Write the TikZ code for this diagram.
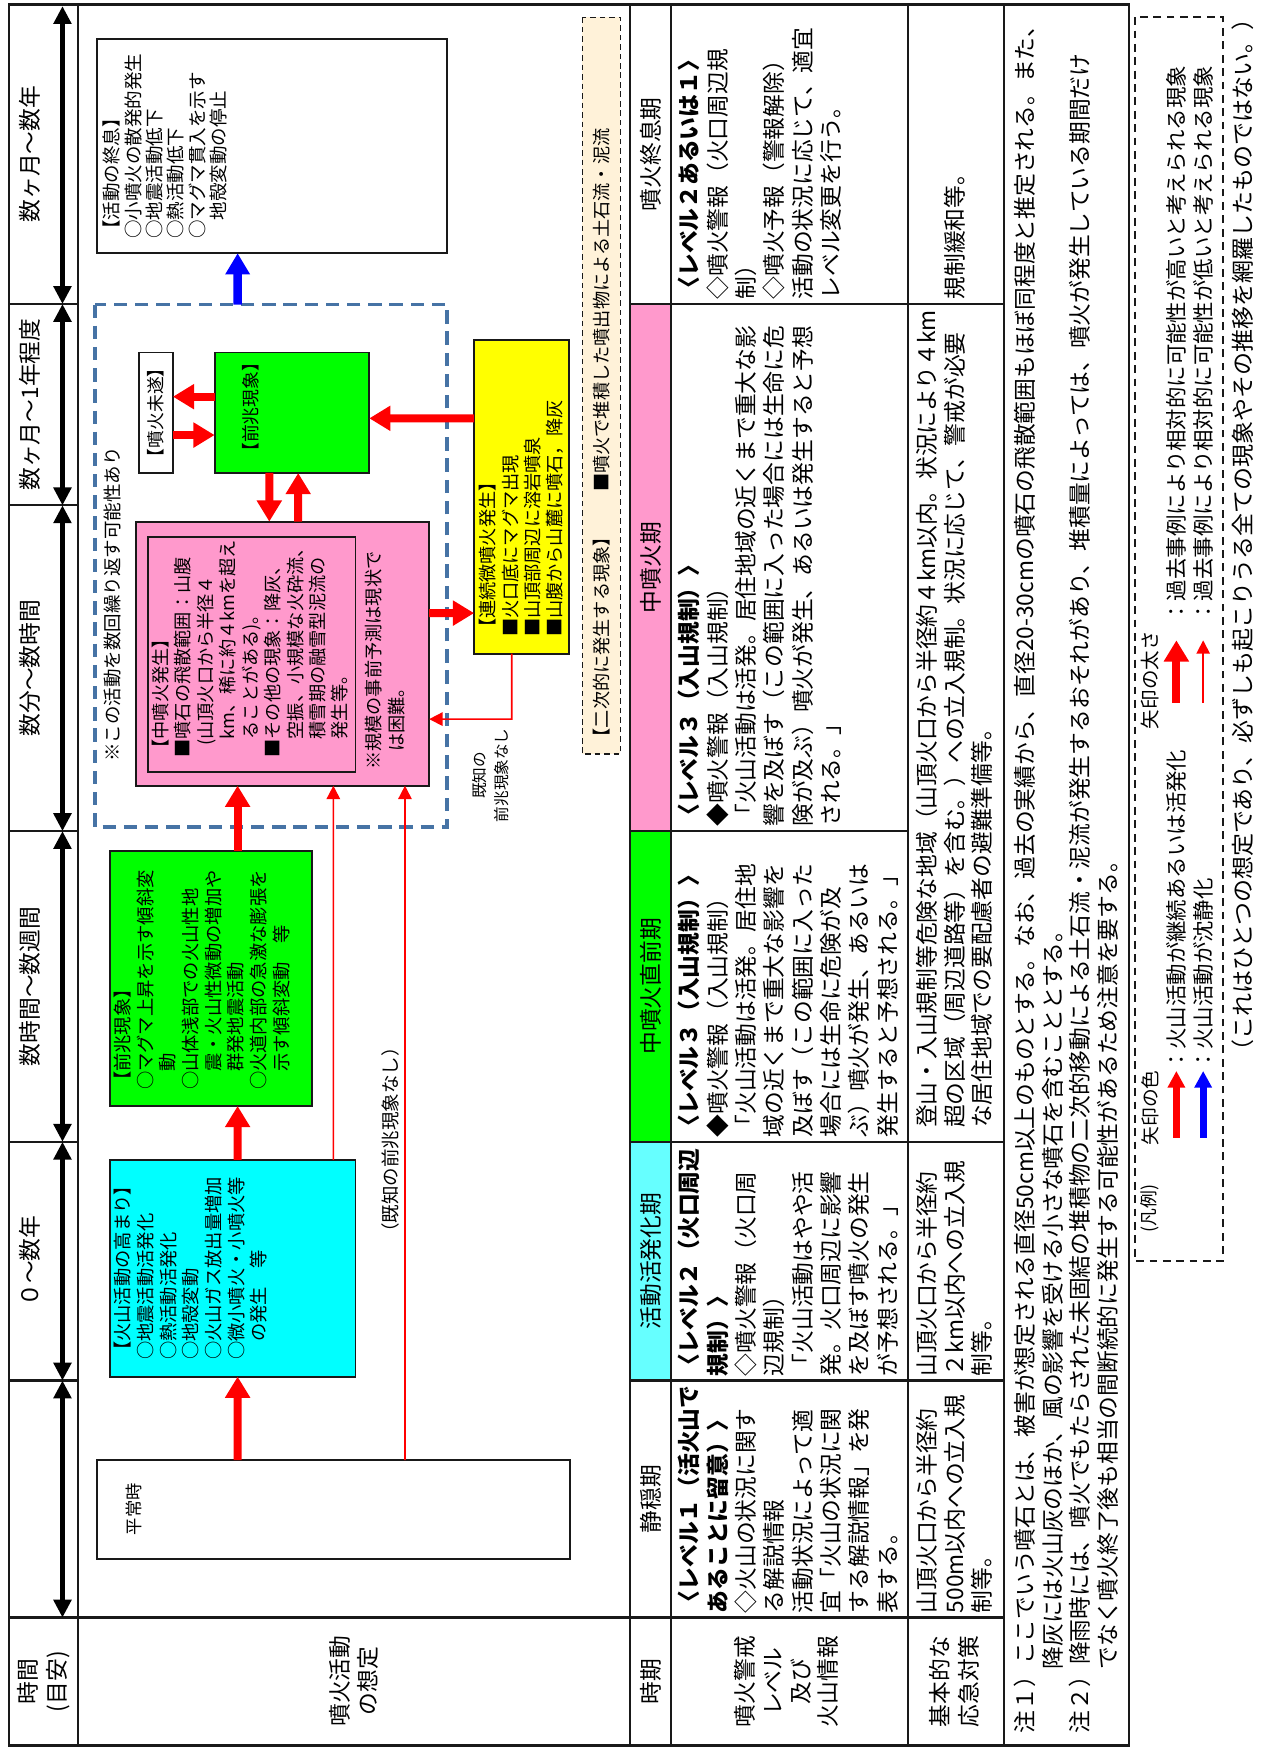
\documentclass[tikz,border=0pt]{standalone}
\usepackage{fontspec}
\setmainfont{Noto Sans CJK JP}
\usetikzlibrary{arrows.meta,calc}
\definecolor{pinkc}{RGB}{255,153,204}
\definecolor{greenc}{RGB}{0,255,0}
\definecolor{cyanc}{RGB}{0,255,255}
\definecolor{lcyanc}{RGB}{102,255,255}
\definecolor{yellowc}{RGB}{255,255,0}
\definecolor{beigec}{RGB}{255,242,217}
\definecolor{dashbluec}{RGB}{70,115,165}
\definecolor{redc}{RGB}{255,0,0}
\definecolor{bluec}{RGB}{0,0,255}
\definecolor{linec}{RGB}{25,25,25}
\tikzset{
  txt/.style={inner sep=0pt, outer sep=0pt, align=left, anchor=west},
  ctxt/.style={inner sep=0pt, outer sep=0pt, align=center, anchor=center},
  tbf/.style={font=\fontsize{20.4}{25.4}\selectfont},
  bxf/.style={font=\fontsize{16.3}{20.1}\selectfont},
  bx/.style={draw=linec, line width=1.6pt, inner sep=0pt, outer sep=0pt, anchor=south west},
  tline/.style={draw=linec, line width=2pt},
  thk/.style={draw=redc, line width=7.2pt, -{Triangle[width=21.5pt,length=19pt]}},
  thn/.style={draw=redc, line width=1.5pt, -{Triangle[width=12pt,length=12pt]}},
  blu/.style={draw=bluec, line width=7.5pt, -{Triangle[width=21pt,length=19pt]}},
  legarr/.style={line width=6.2pt, -{Triangle[width=15pt,length=15pt]}},
  dbl/.style={draw=black, line width=5pt, {Triangle[width=15.5pt,length=16pt]}-{Triangle[width=15.5pt,length=16pt]}},
}
\begin{document}
\begin{tikzpicture}[x=1pt,y=1pt]
\useasboundingbox (0,0) rectangle (1134,1566);
% landscape frame: X runs along the page (bottom to top), Y from page right to left
\begin{scope}[shift={(1134,0)},rotate=90,transform shape]
% ---------- cell fills ----------
\fill[pinkc] (821,532.5) rectangle (1293.5,569.3);
\fill[greenc] (542.5,532.5) rectangle (821,569.3);
\fill[lcyanc] (328.5,532.5) rectangle (542.5,569.3);
% ---------- table rules ----------
\foreach \yy in {1064.3,569.3,532.5,320.4,234} {\draw[tline] (1.2,\yy) -- (1562,\yy);}
\foreach \xx in {1293.5,1113,821,542.5,328.5} {\draw[tline] (\xx,1064.3) -- (\xx,1126);}
\foreach \xx in {1293.5,821,542.5,328.5} {\draw[tline] (\xx,320.4) -- (\xx,569.3);}
\foreach \xx in {1293.5,542.5,328.5} {\draw[tline] (\xx,234) -- (\xx,320.4);}
\draw[tline] (116,234) -- (116,1126);
\draw[draw=linec, line width=2.4pt] (1.2,122) rectangle (1562,1126);

% ---------- time header ----------
\node[ctxt,tbf] (h1) at (1427.75,1107.5) {数ヶ月〜数年};
\node[ctxt,tbf] (h2) at (1203.25,1107.5) {数ヶ月〜1年程度};
\node[ctxt,tbf] (h3) at (967,1107.5) {数分〜数時間};
\node[ctxt,tbf] (h4) at (681.75,1107.5) {数時間〜数週間};
\node[ctxt,tbf] (h5) at (435.5,1107.5) {０〜数年};
\node[ctxt,font=\fontsize{20.4}{26}\selectfont] (h0) at (58.6,1094.5) {時間\\(目安)};
\coordinate (ta0) at (1560.5,1078);
\coordinate (ta1) at (1293.5,1078);
\coordinate (ta2) at (1113,1078);
\coordinate (ta3) at (821,1078);
\coordinate (ta4) at (542.5,1078);
\coordinate (ta5) at (328.5,1078);
\coordinate (ta6) at (116,1078);
\draw[dbl] (ta0) -- (ta1);
\draw[dbl] (ta1) -- (ta2);
\draw[dbl] (ta2) -- (ta3);
\draw[dbl] (ta3) -- (ta4);
\draw[dbl] (ta4) -- (ta5);
\draw[dbl] (ta5) -- (ta6);

% ---------- diagram boxes ----------
\node[ctxt,font=\fontsize{20.4}{25}\selectfont] (lbd) at (59,816.5) {噴火活動\\の想定};
\node[bx, minimum width=192pt, minimum height=314pt] (endb) at (1339,733) {};
\node[draw=dashbluec, line width=3.5pt, dash pattern=on 12pt off 7pt, inner sep=0pt, outer sep=0pt, anchor=south west, minimum width=468pt, minimum height=316pt] (dbox) at (825,733) {};
\node[bx, minimum width=108pt, minimum height=30.4pt, font=\fontsize{16}{18}\selectfont] (mizui) at (1142,979) {【噴火未遂】};
\node[bx, fill=greenc, minimum width=108pt, minimum height=138.6pt] (g1) at (1142,803) {};
\node[bx, fill=pinkc, minimum width=236.7pt, minimum height=262.7pt] (pink) at (861.7,749.3) {};
\node[bx, minimum width=210.1pt, minimum height=185.7pt] (pinkin) at (874.3,815.3) {};
\node[bx, fill=yellowc, minimum width=281pt, minimum height=85pt] (yel) at (980,624) {};
\node[draw=linec, line width=1.3pt, dash pattern=on 5pt off 3.5pt, fill=beigec, inner sep=0pt, outer sep=0pt, anchor=south west, minimum width=660.5pt, minimum height=34pt] (beige) at (890,578) {};
\node[bx, fill=greenc, minimum width=228.8pt, minimum height=181.1pt] (g2) at (574.6,854.3) {};
\node[bx, fill=cyanc, minimum width=194.2pt, minimum height=220.1pt] (cyanb) at (332,815.3) {};
\node[bx, minimum width=88.7pt, minimum height=424.2pt] (heijo) at (168.5,623) {};

% ---------- diagram texts ----------
\node[txt, font=\fontsize{16.6}{19.2}\selectfont] (endt) at (1352,986) {【活動の終息】\\○小噴火の散発的発生\\○地震活動低下\\○熱活動低下\\○マグマ貫入を示す\\　地殻変動の停止};
\node[txt, font=\fontsize{16.6}{19}\selectfont] (dtxt) at (883,1033) {※この活動を数回繰り返す可能性あり};
\node[txt, font=\fontsize{16}{19}\selectfont] (g1t) at (1153,909) {【前兆現象】};
\node[txt, bxf] (pinkt) at (887,909.6) {【中噴火発生】\\■噴石の飛散範囲：山腹\\\hspace*{0.65em}(山頂火口から半径４\\　km、稀に約４kmを超え\\　ることがある)。\\■その他の現象：降灰、\\　空振、小規模な火砕流、\\　積雪期の融雪型泥流の\\　発生等。};
\node[txt, bxf] (pinkn) at (876,788.75) {※規模の事前予測は現状で\\　は困難。};
\node[txt, bxf] (yelt) at (995,666.5) {【連続微噴火発生】\\■火口底にマグマ出現\\■山頂部周辺に溶岩噴泉\\■山腹から山麓に噴石，降灰};
\node[txt, font=\fontsize{16.3}{20}\selectfont] (beiget) at (897,595) {【二次的に発生する現象】　　■噴火で堆積した噴出物による土石流・泥流};
\node[txt, font=\fontsize{16.4}{20.3}\selectfont] (g2t) at (589,953) {【前兆現象】\\○マグマ上昇を示す傾斜変\\　動\\○山体浅部での火山性地\\　震・火山性微動の増加や\\　群発地震活動\\○火道内部の急激な膨張を\\　示す傾斜変動　等};
\node[txt, font=\fontsize{16.4}{20.3}\selectfont] (cyant) at (347,963) {【火山活動の高まり】\\○地震活動活発化\\○熱活動活発化\\○地殻変動\\○火山ガス放出量増加\\○微小噴火・小噴火等\\　の発生　等};
\node[txt, font=\fontsize{15.5}{18}\selectfont] (heijot) at (190,1014) {平常時};
\node[ctxt, font=\fontsize{16.6}{19}\selectfont] (kichi1) at (544,784) {（既知の前兆現象なし）};
\node[ctxt, font=\fontsize{14}{20.5}\selectfont] (kichi2) at (871,694.25) {既知の\\前兆現象なし};

% ---------- diagram arrows (points at fractions along box sides) ----------
\draw[blu] ($(dbox.south east)!0.5949!(dbox.north east)$) -- ($(endb.south west)!0.5987!(endb.north west)$);
\draw[thk] ($(g1.north west)!0.6333!(g1.north east)$) -- ($(mizui.south west)!0.6333!(mizui.south east)$);
\draw[thk] ($(mizui.south west)!0.3148!(mizui.south east)$) -- ($(g1.north west)!0.3148!(g1.north east)$);
\draw[thk] ($(yel.north west)!0.7509!(yel.north east)$) -- ($(g1.south west)!0.4537!(g1.south east)$);
\draw[thk] ($(g1.south west)!0.6465!(g1.north west)$) -- ($(pink.south east)!0.5455!(pink.north east)$);
\draw[thk] ($(pink.south east)!0.4469!(pink.north east)$) -- ($(g1.south west)!0.4596!(g1.north west)$);
\draw[thk] ($(pink.south west)!0.6536!(pink.south east)$) -- ($(yel.north west)!0.1295!(yel.north east)$);
\coordinate (ycorner) at (921.4,675.3);
\draw[thn] ($(yel.south west)!0.6035!(yel.north west)$) -- (ycorner) -- ($(pink.south west)!0.2522!(pink.south east)$);
\draw[thk] ($(g2.south east)!0.3683!(g2.north east)$) -- ($(pink.south west)!0.6536!(pink.north west)$);
\draw[thk] ($(cyanb.south east)!0.4802!(cyanb.north east)$) -- ($(g2.south west)!0.3683!(g2.north west)$);
\draw[thk] ($(heijo.south east)!0.7025!(heijo.north east)$) -- ($(cyanb.south west)!0.4802!(cyanb.north west)$);
\draw[thn] ($(cyanb.south east)!0.0904!(cyanb.north east)$) -- ($(pink.south west)!0.327!(pink.north west)$);
\draw[thn] ($(heijo.south east)!0.3489!(heijo.north east)$) -- ($(pink.south west)!0.0826!(pink.north west)$);

% ---------- period row ----------
\node[ctxt,tbf] (p1) at (1427.75,550.9) {噴火終息期};
\node[ctxt,tbf] (p2) at (1057.25,550.9) {中噴火期};
\node[ctxt,tbf] (p3) at (681.75,550.9) {中噴火直前期};
\node[ctxt,tbf] (p4) at (435.5,550.9) {活動活発化期};
\node[ctxt,tbf] (p5) at (222.25,550.9) {静穏期};
\node[ctxt,tbf] (p0) at (58.5,550.9) {時期};

% ---------- level row ----------
\node[txt,tbf] (lv1) at (1297.5,453) {{\bfseries 〈レベル２あるいは１〉}\\◇噴火警報（火口周辺規\\制）\\◇噴火予報（警報解除）\\活動の状況に応じて、適宜\\レベル変更を行う。};
\node[txt,tbf] (lv2) at (825,453) {{\bfseries 〈レベル３（入山規制）〉}\\◆噴火警報（入山規制）\\「火山活動は活発。居住地域の近くまで重大な影\\響を及ぼす（この範囲に入った場合には生命に危\\険が及ぶ）噴火が発生、あるいは発生すると予想\\される。」};
\node[txt,tbf] (lv3) at (546.5,427.6) {{\bfseries 〈レベル３（入山規制）〉}\\◆噴火警報（入山規制）\\「火山活動は活発。居住地\\域の近くまで重大な影響を\\及ぼす（この範囲に入った\\場合には生命に危険が及\\ぶ）噴火が発生、あるいは\\発生すると予想される。」};
\node[txt,tbf] (lv4) at (332.5,427.6) {{\bfseries 〈レベル２（火口周辺}\\{\bfseries 規制）〉}\\◇噴火警報（火口周\\辺規制）\\「火山活動はやや活\\発。火口周辺に影響\\を及ぼす噴火の発生\\が予想される。」};
\node[txt,tbf] (lv5) at (120,427.6) {{\bfseries 〈レベル１（活火山で}\\{\bfseries あることに留意）〉}\\◇火山の状況に関す\\る解説情報\\活動状況によって適\\宜「火山の状況に関\\する解説情報」を発\\表する。};
\node[ctxt,font=\fontsize{20.4}{24.8}\selectfont] (lvl) at (58.5,428.75) {噴火警戒\\レベル\\及び\\火山情報};

% ---------- countermeasure row ----------
\node[txt,tbf] (k1) at (1297.5,278) {規制緩和等。};
\node[txt,font=\fontsize{20.4}{24.5}\selectfont] (k2) at (555,278.5) {登山・入山規制等危険な地域（山頂火口から半径約４km以内。状況により４km\\超の区域（周辺道路等）を含む。）への立入規制。状況に応じて、警戒が必要\\な居住地域での要配慮者の避難準備等。};
\node[txt,font=\fontsize{20.4}{24.5}\selectfont] (k3) at (332.5,278.5) {山頂火口から半径約\\２km以内への立入規\\制等。};
\node[txt,font=\fontsize{20.4}{24.5}\selectfont] (k4) at (120,278.5) {山頂火口から半径約\\500m以内への立入規\\制等。};
\node[ctxt,tbf] (k0) at (58.5,278.7) {基本的な\\応急対策};

% ---------- notes ----------
\node[txt,font=\fontsize{20.4}{24.67}\selectfont] (notes) at (12.4,178) {注１）ここでいう噴石とは、被害が想定される直径50cm以上のものとする。なお、過去の実績から、直径20-30cmの噴石の飛散範囲もほぼ同程度と推定される。また、\\\hspace*{2.8em}降灰には火山灰のほか、風の影響を受ける小さな噴石を含むこととする。\\注２）降雨時には、噴火でもたらされた未固結の堆積物の二次的移動による土石流・泥流が発生するおそれがあり、堆積量によっては、噴火が発生している期間だけ\\\hspace*{2.8em}でなく噴火終了後も相当の間断続的に発生する可能性があるため注意を要する。};

% ---------- legend ----------
\node[draw=linec, line width=1.6pt, dash pattern=on 7pt off 5pt, inner sep=0pt, outer sep=0pt, anchor=south west, minimum width=1115.1pt, minimum height=78.5pt] (leg) at (435.5,38) {};
\node[ctxt, font=\fontsize{16}{18}\selectfont] (lg0) at (483,103) {(凡例)};
\node[txt, font=\fontsize{16.8}{18}\selectfont] (lg1) at (539.4,103) {矢印の色};
\node[txt, font=\fontsize{17.5}{18}\selectfont] (lg2) at (912.5,103) {矢印の太さ};
\node[txt, font=\fontsize{19.2}{22}\selectfont] (lg3) at (606,79.5) {：火山活動が継続あるいは活発化};
\node[txt, font=\fontsize{19.2}{22}\selectfont] (lg4) at (606,55.5) {：火山活動が沈静化};
\node[txt, font=\fontsize{19.2}{22}\selectfont] (lg5) at (1008,79.5) {：過去事例により相対的に可能性が高いと考えられる現象};
\node[txt, font=\fontsize{19.2}{22}\selectfont] (lg6) at (1008,55.5) {：過去事例により相対的に可能性が低いと考えられる現象};
\coordinate (la) at (546,79.5);
\coordinate (lb) at (546,55.5);
\coordinate (lc) at (936,79.5);
\coordinate (ld) at (936,55.5);
\draw[legarr, draw=redc] (la) -- (lg3.west);
\draw[legarr, draw=bluec] (lb) -- (lg4.west);
\draw[thk, shorten >=16pt] (lc) -- (lg5.west);
\draw[thn, shorten >=16pt] (ld) -- (lg6.west);
\node[txt, font=\fontsize{20.6}{24}\selectfont] (fin) at (614,20) {（これはひとつの想定であり、必ずしも起こりうる全ての現象やその推移を網羅したものではない。）};
\end{scope}
\end{tikzpicture}
\end{document}
